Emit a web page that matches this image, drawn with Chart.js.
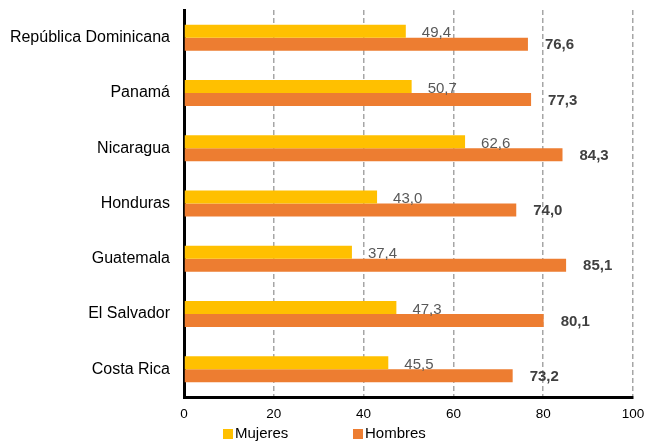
<!DOCTYPE html>
<html>
<head>
<meta charset="utf-8">
<script src="https://cdn.jsdelivr.net/npm/chart.js@4"></script>
<style>
  body { margin: 0; background: #fff; }
  canvas { display: block; }
</style>
</head>
<body>
<canvas id="chart" width="645" height="441"></canvas>
<script>
// data
const paises = ['República Dominicana', 'Panamá', 'Nicaragua', 'Honduras', 'Guatemala', 'El Salvador', 'Costa Rica'];
const mujeres = [49.4, 50.7, 62.6, 43.0, 37.4, 47.3, 45.5];
const hombres = [76.6, 77.3, 84.3, 74.0, 85.1, 80.1, 73.2];
const xTicks = [0, 20, 40, 60, 80, 100];

const FONT = '"Liberation Sans", Arial, sans-serif';

// number with comma decimal, like the original
function fmt(v) {
  return v.toFixed(1).replace('.', ',');
}

// value labels next to each bar
const barLabels = {
  id: 'barLabels',
  afterDatasetsDraw(chart) {
    const ctx = chart.ctx;
    ctx.save();
    ctx.textBaseline = 'middle';
    ctx.textAlign = 'left';
    chart.data.datasets.forEach((ds, i) => {
      const meta = chart.getDatasetMeta(i);
      meta.data.forEach((bar, j) => {
        if (i === 0) {
          ctx.font = '15px ' + FONT;
          ctx.fillStyle = '#595959';
          ctx.fillText(fmt(ds.data[j]), bar.x + 16, bar.y + 2);
        } else {
          ctx.font = 'bold 15px ' + FONT;
          ctx.fillStyle = '#404040';
          ctx.fillText(fmt(ds.data[j]), bar.x + 17, bar.y + 1);
        }
      });
    });
    ctx.restore();
  }
};

// legend under the axis
const bottomLegend = {
  id: 'bottomLegend',
  afterDraw(chart) {
    const ctx = chart.ctx;
    const spots = [223, 353];
    ctx.save();
    ctx.font = '15px ' + FONT;
    ctx.textBaseline = 'middle';
    chart.data.datasets.forEach((ds, i) => {
      ctx.fillStyle = ds.backgroundColor;
      ctx.fillRect(spots[i], 429, 10, 10);
      ctx.fillStyle = '#000';
      ctx.fillText(ds.label, spots[i] + 12, 434);
    });
    ctx.restore();
  }
};

new Chart(document.getElementById('chart'), {
  type: 'bar',
  data: {
    labels: paises,
    datasets: [
      { label: 'Mujeres', data: mujeres, backgroundColor: '#FFC000' },
      { label: 'Hombres', data: hombres, backgroundColor: '#ED7D31' }
    ]
  },
  options: {
    indexAxis: 'y',
    responsive: false,
    animation: false,
    events: [],
    layout: { padding: { top: 10, right: 12, left: 0, bottom: 0 } },
    datasets: {
      bar: { barPercentage: 1, categoryPercentage: 0.47 }
    },
    plugins: {
      legend: { display: false },
      tooltip: { enabled: false }
    },
    scales: {
      x: {
        min: 0,
        max: 100,
        afterBuildTicks: (scale) => { scale.ticks = xTicks.map(v => ({ value: v })); },
        afterFit: (scale) => {
          scale.height = 44;
          scale.paddingLeft = 0;
          scale.paddingRight = 0;
        },
        grid: { color: '#A6A6A6', lineWidth: 1.5, drawTicks: false },
        border: { display: true, color: '#000', width: 3, dash: [5, 3] },
        ticks: { color: '#000', font: { family: FONT, size: 13.5 }, padding: 9, maxRotation: 0 }
      },
      y: {
        afterFit: (scale) => {
          scale.width = 184;
          scale.paddingTop = 0;
          scale.paddingBottom = 0;
        },
        grid: { display: false, drawTicks: false },
        border: { display: true, color: '#000', width: 3 },
        ticks: { color: '#000', font: { family: FONT, size: 16, weight: 'normal' }, padding: 14 }
      }
    }
  },
  plugins: [barLabels, bottomLegend]
});
</script>
</body>
</html>
